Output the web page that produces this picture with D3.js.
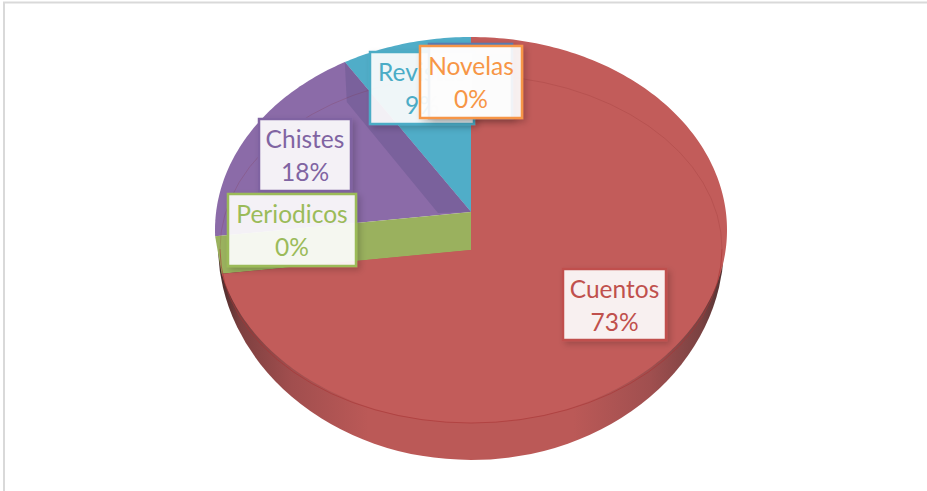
<!DOCTYPE html>
<html>
<head>
<meta charset="utf-8">
<script src="https://cdn.jsdelivr.net/npm/d3@7"></script>
<style>
  html, body { margin: 0; padding: 0; background: #fff; }
  svg { display: block; }
</style>
</head>
<body>
<div id="chart"></div>
<script>
// Chart data, clockwise from 12 o'clock
const categories = ["Cuentos", "Periodicos", "Chistes", "Revistas", "Novelas"];
const percents = [73, 0, 18, 9, 0];
const sliceColors = ["#c25c5a", "#9ab15e", "#8b6ba8", "#50adc8", "#f79646"];
const labelColors = ["#c0504d", "#9bbb59", "#8064a2", "#4bacc6", "#f79646"];

const W = 927, H = 491;
const FONT = "Lato, 'Open Sans', sans-serif";

// Projected disc
const cx = 471, cy = 230, rx = 256, ry = 193;
const tilt = ry / rx;
const apexUpper = [cx, 212];   // where the raised purple/blue slices meet
const apexLower = [cx, 250];   // where the red slice meets

// Where a ray from the apex hits the rim of the ellipse
function rim(angle, apex) {
  const dx = Math.sin(angle), dy = -Math.cos(angle) * tilt;
  const ox = (apex[0] - cx) / rx, oy = (apex[1] - cy) / ry;
  const ax = dx / rx, ay = dy / ry;
  const a = ax * ax + ay * ay, b = 2 * (ox * ax + oy * ay), c = ox * ox + oy * oy - 1;
  const t = (-b + Math.sqrt(b * b - 4 * a * c)) / (2 * a);
  return [apex[0] + dx * t, apex[1] + dy * t];
}

const svg = d3.select("#chart").append("svg").attr("width", W).attr("height", H);
const defs = svg.append("defs");

const wallGrad = defs.append("linearGradient").attr("id", "wall-grad")
  .attr("gradientUnits", "userSpaceOnUse")
  .attr("x1", cx - rx).attr("x2", cx + rx).attr("y1", 0).attr("y2", 0);
[[0, "#3e2626"], [0.05, "#7e4040"], [0.15, "#a14e4e"], [0.3, "#bb5957"],
 [0.7, "#bb5957"], [0.85, "#a04f4f"], [0.95, "#7a4242"], [1, "#4a2e2e"]].forEach(s => {
  wallGrad.append("stop").attr("offset", s[0]).attr("stop-color", s[1]);
});

const shadow = defs.append("filter").attr("id", "label-shadow")
  .attr("x", "-20%").attr("y", "-20%").attr("width", "150%").attr("height", "150%");
shadow.append("feDropShadow").attr("dx", 3).attr("dy", 3).attr("stdDeviation", 3)
  .attr("flood-color", "#000").attr("flood-opacity", 0.2);

// Picture frame, only the top and left edges show
svg.append("path").attr("d", `M4,${H}V2.5H${W}`)
  .attr("fill", "none").attr("stroke", "#d9d9d9").attr("stroke-width", 2);

// Side wall, lower half only
const wallY = 245, wallRx = 253, wallRy = 215;
svg.append("path")
  .attr("d", `M${cx - wallRx},${wallY}A${wallRx},${wallRy} 0 0 0 ${cx + wallRx},${wallY}Z`)
  .attr("fill", "url(#wall-grad)");

const pie = d3.pie().sort(null).value(d => d);
const arcs = pie(percents);
const line = d3.line();

function sector(a0, a1, apex) {
  const n = Math.max(2, Math.ceil(Math.abs(a1 - a0) * 60));
  const pts = d3.range(n + 1).map(i => rim(a0 + (a1 - a0) * i / n, apex));
  return line([apex, ...pts]) + "Z";
}

const iCuentos = categories.indexOf("Cuentos");
const iPeriodicos = categories.indexOf("Periodicos");
const iChistes = categories.indexOf("Chistes");
const iRevistas = categories.indexOf("Revistas");

// Raised slices first, red slice last
[iChistes, iRevistas].forEach(i => {
  svg.append("path")
    .attr("d", sector(arcs[i].startAngle, arcs[i].endAngle, apexUpper))
    .attr("fill", sliceColors[i]);
});

// Inner wall of the purple slice, along the blue edge
const edge = rim(arcs[iRevistas].startAngle, apexUpper);
svg.append("path")
  .attr("d", line([edge, [edge[0] + 2, edge[1] + 40], [apexUpper[0] - 33, apexUpper[1] + 1], apexUpper]) + "Z")
  .attr("fill", "#7a619c");

// Periodicos is 0%, only its wall shows
const cut = arcs[iPeriodicos].startAngle;
svg.append("path")
  .attr("d", line([apexUpper, rim(cut, apexUpper), rim(cut, apexLower), apexLower]) + "Z")
  .attr("fill", sliceColors[iPeriodicos]);

svg.append("path")
  .attr("d", sector(arcs[iCuentos].startAngle, arcs[iCuentos].endAngle, apexLower))
  .attr("fill", sliceColors[iCuentos]);

// Bevel line: faint across the top of the disc, stronger where the wall starts
const bevelY = 249, bevelRx = 251, bevelRy = 174;
svg.append("path")
  .attr("d", `M${cx - bevelRx},${bevelY}A${bevelRx},${bevelRy} 0 0 1 ${cx + bevelRx},${bevelY}`)
  .attr("fill", "none").attr("stroke", "#7a2020").attr("stroke-opacity", 0.16).attr("stroke-width", 1);
svg.append("path")
  .attr("d", `M${cx - bevelRx},${bevelY}A${bevelRx},${bevelRy} 0 0 0 ${cx + bevelRx},${bevelY}`)
  .attr("fill", "none").attr("stroke", "#a83434").attr("stroke-opacity", 0.6).attr("stroke-width", 1);

// Data labels, drawn in the order they stack
const labelBoxes = {
  Cuentos: [563, 269, 103, 71],
  Periodicos: [228, 194, 128, 72],
  Chistes: [259, 119, 92, 72],
  Revistas: [370, 52, 104, 72],
  Novelas: [420, 46, 102, 72]
};

function drawBox(b, color) {
  return svg.append("rect").attr("x", b[0]).attr("y", b[1]).attr("width", b[2]).attr("height", b[3])
    .attr("fill", "#fff").attr("fill-opacity", 0.9)
    .attr("stroke", color).attr("stroke-width", 2.5)
    .attr("filter", "url(#label-shadow)");
}

["Cuentos", "Chistes", "Periodicos", "Revistas", "Novelas"].forEach(name => {
  const i = categories.indexOf(name);
  const b = labelBoxes[name];
  // An empty blue box sits behind the Novelas one, its top edge peeks out
  if (name === "Novelas") drawBox([429, 44, 83, 74], "#5a7db5");
  drawBox(b, labelColors[i]);
  [name, percents[i] + "%"].forEach((txt, k) => {
    svg.append("text").attr("x", b[0] + b[2] / 2).attr("y", b[1] + 29 + k * 33)
      .attr("text-anchor", "middle").attr("fill", labelColors[i])
      .attr("font-family", FONT).attr("font-size", "24.5px").text(txt);
  });
});
</script>
</body>
</html>
